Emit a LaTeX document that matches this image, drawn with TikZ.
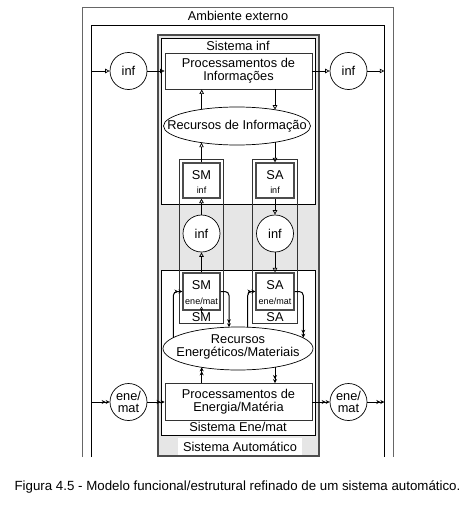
\documentclass[tikz,border=0pt]{standalone}
\usepackage{fontspec}
\setmainfont{Liberation Sans}
\usetikzlibrary{arrows.meta,shapes.geometric,calc}
\definecolor{bandgray}{HTML}{E6E6E6}
\begin{document}
\begin{tikzpicture}[x=1pt,y=-1pt,
  every node/.style={font=\fontsize{12.8}{14}\selectfont, inner sep=0pt, align=center},
  small/.style={font=\fontsize{9}{10}\selectfont},
  box/.style={draw=black!80, line width=0.9pt, fill=white, rectangle},
  sbox/.style={draw=black!70, line width=1.1pt, fill=white, rectangle, minimum width=37pt, minimum height=35pt},
  col/.style={draw=black!80, line width=0.9pt, rectangle, minimum width=44pt, minimum height=164pt},
  circ/.style={draw=black, line width=0.7pt, circle, fill=white, minimum size=37pt},
  ell/.style={draw=black, line width=0.7pt, ellipse, fill=white},
  sysbox/.style={draw=black, line width=0.8pt, fill=white, rectangle},
  iarr/.style={-{Triangle[open,length=4.5pt,width=4.5pt]}, line width=0.7pt},
  earr/.style={-{Stealth[length=4pt,width=4pt]Stealth[length=4pt,width=4pt]}, line width=1pt},
  sarr/.style={-{Triangle[open,length=3pt,width=3pt]}, line width=0.5pt}
]
\useasboundingbox (0,0) rectangle (476,519);

% environment frame
\draw[draw=black!60, line width=0.8pt] (82.7,457) -- (82.7,7.3) -- (393.3,7.3) -- (393.3,457);
\draw[line width=0.8pt] (91.7,457) -- (91.7,25) -- (384.3,25) -- (384.3,457);
\node (amb) at (238,16) {Ambiente externo};

% automatic system
\node[draw=black!70, line width=2pt, fill=bandgray, rectangle, minimum width=160.5pt, minimum height=421pt] (saut) at (238.25,245.5) {};
\node[sysbox, minimum width=154.7pt, minimum height=165.5pt] (sinf) at (238.35,121.25) {};
\node (sinfT) at (238,45.5) {Sistema inf};
\node[sysbox, minimum width=154.7pt, minimum height=165pt] (sene) at (238.35,352.5) {};
\node (seneT) at (238,427) {Sistema Ene/mat};
\node[fill=white, minimum width=124pt, minimum height=17pt] (sautT) at (240,446.5) {Sistema Automático};

% columns
\node[col] (colSM) at (201,241) {};
\node[col, minimum width=45pt] (colSA) at (274.5,241) {};

% processing boxes
\node[box, minimum width=147pt, minimum height=36pt] (pinf) at (238.5,71) {Processamentos de\\[-1pt]Informações};
\node[box, minimum width=147pt, minimum height=37pt] (pene) at (238.5,402) {Processamentos de\\[-1pt]Energia/Matéria};

% resources
\node[ell, minimum width=147pt, minimum height=38pt] (rinf) at (237,126) {};
\node (rinfT) at (237,126) {Recursos de Informação};
\node[ell, minimum width=150pt, minimum height=43pt] (rene) at (238,348.5) {};
\node (reneT) at (238,347) {Recursos\\[-1pt]Energéticos/Materiais};

% SM / SA boxes
\node[sbox] (smi) at (201.5,180.5) {};
\node (smiT) at (201.5,175) {SM};
\node[small] (smiS) at (201.5,190.5) {inf};
\node[sbox, minimum width=38pt] (sai) at (275,180.5) {};
\node (saiT) at (275,175) {SA};
\node[small] (saiS) at (275,190.5) {inf};

\node[sbox, minimum height=37pt] (sme) at (201.5,291.5) {};
\node (smeT) at (201.5,285) {SM};
\node[small] (smeS) at (201.5,301.5) {ene/mat};
\node (smL) at (201.5,317.5) {SM};
\node[sbox, minimum width=38pt, minimum height=37pt] (sae) at (275,291.5) {};
\node (saeT) at (275,285) {SA};
\node[small] (saeS) at (275,301.5) {ene/mat};
\node (saL) at (275,317.5) {SA};

% inf circles
\node[circ] (cinf1) at (201.5,233.5) {inf};
\node[circ] (cinf2) at (275,233.5) {inf};
\node[circ] (inL) at (128.5,71) {inf};
\node[circ] (inR) at (348.5,71) {inf};
\node[circ] (eL) at (128.5,402) {ene/\\[-2pt]mat};
\node[circ] (eR) at (348.5,402) {ene/\\[-2pt]mat};

% connector end points
\coordinate (li) at (91.7,71);
\coordinate (ri) at (384.3,71);
\coordinate (le) at (91.7,402);
\coordinate (re) at (384.3,402);
\coordinate (ri1) at (201.7,109.3);
\coordinate (ri2) at (275,109.7);
\coordinate (rb1) at (201.5,142.7);
\coordinate (rb2) at (275,142.3);
\coordinate (e1) at (173.3,337.8);
\coordinate (e2) at (229,327.2);
\coordinate (e3) at (247.7,327.2);
\coordinate (e4) at (303.3,337.8);
\coordinate (e5) at (201.7,367.3);
\coordinate (e6) at (275,367.2);

% information flows
\draw[iarr] (li) -- (inL);
\draw[iarr] (inL) -- (pinf);
\draw[iarr] (pinf) -- (inR);
\draw[iarr] (inR) -- (ri);
\draw[iarr] (ri1) -- (ri1 |- pinf.south);
\draw[iarr] (ri2 |- pinf.south) -- (ri2);
\draw[iarr] (smi.north) -- (rb1);
\draw[iarr] (rb2) -- (sai.north);
\draw[iarr] (cinf1) -- (smi);
\draw[iarr] (sme) -- (cinf1);
\draw[iarr] (sai) -- (cinf2);
\draw[iarr] (cinf2) -- (sae);
\draw[sarr] ([yshift=-2pt]sme.south) -- ([yshift=4pt]sme.south);

% energy / matter flows
\draw[earr] (le) -- (eL);
\draw[earr] (eL) -- (pene);
\draw[earr] (pene) -- (eR);
\draw[earr] (eR) -- (re);
\draw[earr] (e5 |- pene.north) -- (e5);
\draw[earr] (e6) -- (e6 |- pene.north);
\draw[earr, rounded corners=4pt] (e1) |- (sme.west);
\draw[earr, rounded corners=4pt] (sme.east) -| (e2);
\draw[earr, rounded corners=4pt] (e3) |- (sae.west);
\draw[earr, rounded corners=4pt] (sae.east) -| (e4);

% caption
\node[font=\fontsize{13.3}{15}\selectfont] (cap) at (237.5,487) {Figura 4.5 - Modelo funcional/estrutural refinado de um sistema automático.};
\end{tikzpicture}
\end{document}
